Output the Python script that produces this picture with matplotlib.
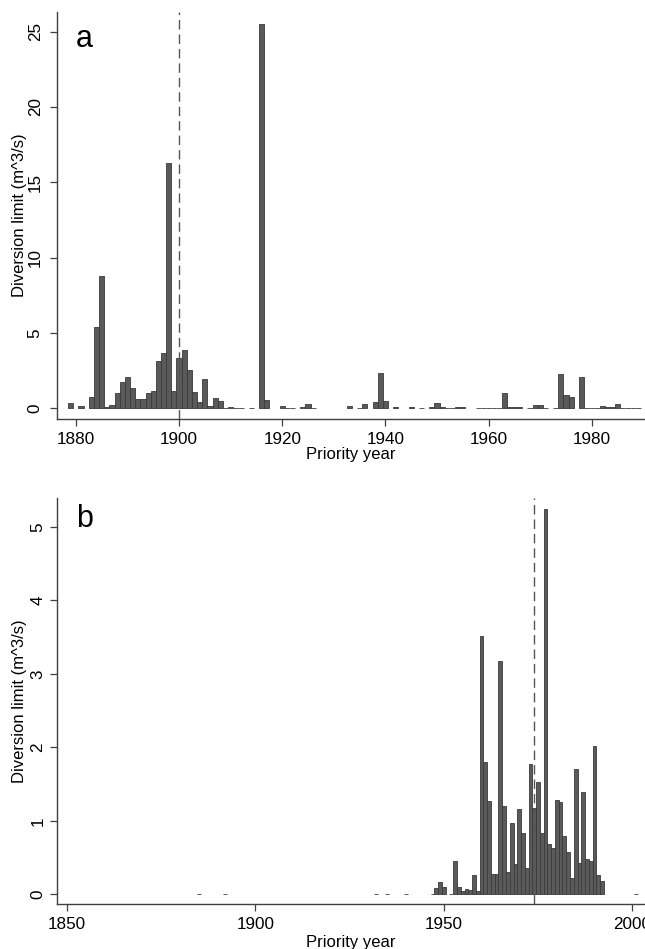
import matplotlib
matplotlib.use("Agg")
import matplotlib.pyplot as plt

plt.rcParams['font.family'] = ['Liberation Sans', 'DejaVu Sans']

# ---- Panel a data ----
years_a = [1879, 1881, 1883, 1884, 1885, 1886, 1887, 1888, 1889, 1890,
           1891, 1892, 1893, 1894, 1895, 1896, 1897, 1898, 1899, 1900,
           1901, 1902, 1903, 1904, 1905, 1906, 1907, 1908, 1909, 1910,
           1911, 1912, 1914, 1916, 1917, 1920, 1921, 1922, 1924, 1925,
           1926, 1933, 1935, 1936, 1938, 1939, 1940, 1942, 1945, 1947,
           1949, 1950, 1951, 1952, 1953, 1954, 1955, 1958, 1959, 1960,
           1961, 1962, 1963, 1964, 1965, 1966, 1968, 1969, 1970, 1971,
           1973, 1974, 1975, 1976, 1978, 1979, 1980, 1981, 1982, 1983,
           1984, 1985, 1986, 1987, 1988, 1989]
values_a = [0.33, 0.15, 0.77, 5.42, 8.78, 0.11, 0.22, 1.04, 1.75, 2.08,
            1.33, 0.62, 0.62, 1.02, 1.17, 3.14, 3.69, 16.3, 1.13, 3.34,
            3.89, 2.54, 1.08, 0.44, 1.92, 0.15, 0.66, 0.46, 0.02, 0.07,
            0.05, 0.02, 0.03, 25.53, 0.55, 0.13, 0.03, 0.03, 0.10, 0.31,
            0.02, 0.13, 0.02, 0.27, 0.40, 2.34, 0.51, 0.09, 0.08, 0.02,
            0.11, 0.38, 0.08, 0.01, 0.01, 0.10, 0.10, 0.05, 0.05, 0.05,
            0.05, 0.05, 0.99, 0.08, 0.08, 0.08, 0.03, 0.22, 0.22, 0.05,
            0.02, 2.25, 0.88, 0.77, 2.06, 0.04, 0.04, 0.04, 0.18, 0.11,
            0.11, 0.31, 0.03, 0.03, 0.01, 0.01]
xticks_a = [1880, 1900, 1920, 1940, 1960, 1980]
yticks_a = [0, 5, 10, 15, 20, 25]
ref_year_a = 1900

# ---- Panel b data ----
years_b = [1885, 1892, 1932, 1935, 1940, 1947, 1948, 1949, 1950, 1952,
           1953, 1954, 1955, 1956, 1957, 1958, 1959, 1960, 1961, 1962,
           1963, 1964, 1965, 1966, 1967, 1968, 1969, 1970, 1971, 1972,
           1973, 1974, 1975, 1976, 1977, 1978, 1979, 1980, 1981, 1982,
           1983, 1984, 1985, 1986, 1987, 1988, 1989, 1990, 1991, 1992,
           2001]
values_b = [0.005, 0.005, 0.005, 0.005, 0.005, 0.01, 0.08, 0.17, 0.10, 0.01,
            0.45, 0.10, 0.05, 0.07, 0.06, 0.26, 0.04, 3.51, 1.80, 1.27,
            0.28, 0.28, 3.18, 1.20, 0.30, 0.97, 0.41, 1.16, 0.83, 0.36,
            1.78, 1.18, 1.53, 0.84, 5.25, 0.69, 0.63, 1.29, 1.26, 0.79,
            0.57, 0.22, 1.71, 0.42, 1.39, 0.48, 0.46, 2.02, 0.26, 0.18,
            0.005]
xticks_b = [1850, 1900, 1950, 2000]
yticks_b = [0, 1, 2, 3, 4, 5]
ref_year_b = 1974

W, H = 645, 949
fig = plt.figure(figsize=(W / 100, H / 100), dpi=100)

def px_rect(left, top, right, bottom):
    return [left / W, 1 - bottom / H, (right - left) / W, (bottom - top) / H]

FACE = '#5a5a5a'
EDGE = '#3a3a3a'
SPINE = '#404040'

def style(ax, xticks, yticks, ypad):
    for s in ['top', 'right']:
        ax.spines[s].set_visible(False)
    for s in ['left', 'bottom']:
        ax.spines[s].set_color(SPINE)
        ax.spines[s].set_linewidth(1.0)
    ax.set_xticks(xticks)
    ax.set_yticks(yticks)
    ax.tick_params(axis='both', direction='out', length=5, width=0.9,
                   color=SPINE, labelsize=12.3, labelcolor='black')
    ax.tick_params(axis='x', pad=4)
    ax.tick_params(axis='y', pad=ypad)
    for lab in ax.get_yticklabels():
        lab.set_rotation(90)
        lab.set_va('center')
        lab.set_ha('right')

# Panel a
ax1 = fig.add_axes(px_rect(57.3, 12, 645, 419.3))
ax1.bar(years_a, values_a, width=1.0, color=FACE, edgecolor=EDGE, linewidth=0.6)
ax1.axvline(ref_year_a, color='#555555', lw=1.0, dashes=(6.8, 3.6))
ax1.set_xlim(1876.4, 1990.3)
ax1.set_ylim(-0.73, 26.3)
style(ax1, xticks_a, yticks_a, 5.5)
ax1.text(75.5 / (645 - 57.3) * 0 + 0.031, 0.915, 'a', transform=ax1.transAxes,
         fontsize=22, ha='left', va='baseline')

# Panel b
ax2 = fig.add_axes(px_rect(57.3, 498.3, 645, 904.3))
ax2.bar(years_b, values_b, width=1.0, color=FACE, edgecolor=EDGE, linewidth=0.6)
ax2.axvline(ref_year_b, color='#555555', lw=1.0, dashes=(6.8, 3.6))
ax2.set_xlim(1847.4, 2003.4)
ax2.set_ylim(-0.136, 5.39)
style(ax2, xticks_b, yticks_b, 3.5)
ax2.text(0.032, 0.93, 'b', transform=ax2.transAxes,
         fontsize=22, ha='left', va='baseline')

# Axis titles
for (top, bottom, xl_base) in [(12, 419.3, 459), (498.3, 904.3, 947)]:
    fig.text(19.5 / W, 1 - (top + bottom) / 2 / H, 'Diversion limit (m^3/s)',
             rotation=90, ha='center', va='center', fontsize=12)
    fig.text((57.3 + 645) / 2 / W, 1 - xl_base / H, 'Priority year',
             ha='center', va='baseline', fontsize=12)

fig.savefig('out.png', dpi=100)
